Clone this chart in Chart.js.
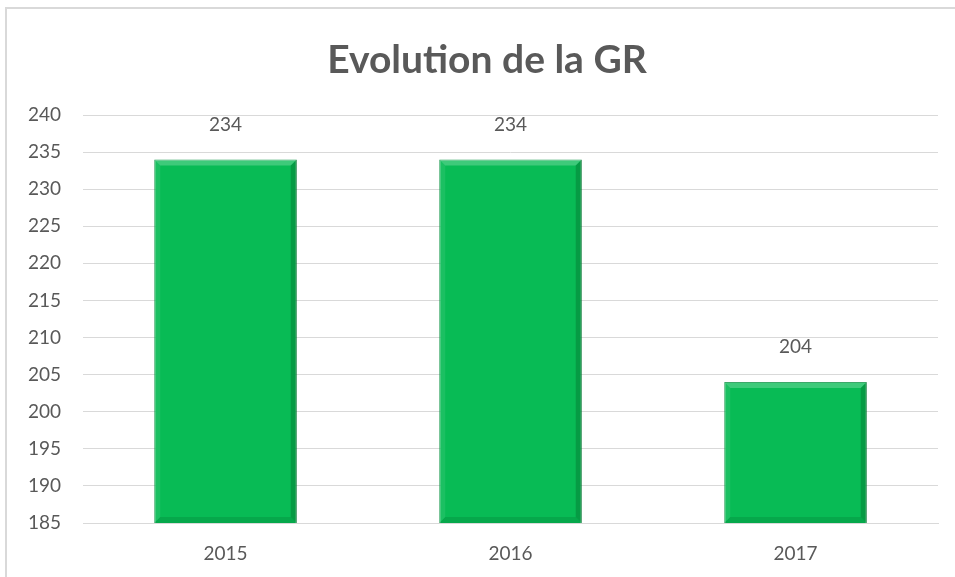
<!DOCTYPE html>
<html>
<head>
<meta charset="utf-8">
<script src="https://cdn.jsdelivr.net/npm/chart.js@4.4.0/dist/chart.umd.js"></script>
<style>
  html, body { margin: 0; padding: 0; background: #fff; overflow: hidden; }
  #frame { position: absolute; left: 5px; top: 7px; width: 1000px; height: 600px; border: 2px solid #d9d9d9; box-sizing: border-box; }
  #wrap { position: absolute; left: 0; top: 0; width: 955px; height: 577px; }
</style>
</head>
<body>
<div id="frame"></div>
<div id="wrap"><canvas id="chart" width="955" height="577"></canvas></div>
<script>
// données du graphique
const years = ['2015', '2016', '2017'];
const grValues = [234, 234, 204];
const yTicks = [185, 190, 195, 200, 205, 210, 215, 220, 225, 230, 235, 240];
const chartTitle = 'Evolution de la GR';

const textColor = '#595959';
const fontFamily = "Lato, 'Open Sans', sans-serif";

// titre centré sur le cadre complet (le cadre déborde à droite)
const frameTitle = {
    id: 'frameTitle',
    afterDraw(chart) {
        const ctx = chart.ctx;
        ctx.save();
        ctx.fillStyle = textColor;
        ctx.font = 'bold 39px ' + fontFamily;
        ctx.textAlign = 'center';
        ctx.textBaseline = 'middle';
        ctx.fillText(chartTitle, 487, 60);
        ctx.restore();
    }
};

// étiquettes de valeurs au-dessus des barres
const valueLabels = {
    id: 'valueLabels',
    afterDatasetsDraw(chart) {
        const ctx = chart.ctx;
        const meta = chart.getDatasetMeta(0);
        ctx.save();
        ctx.fillStyle = textColor;
        ctx.font = '19px ' + fontFamily;
        ctx.textAlign = 'center';
        ctx.textBaseline = 'middle';
        meta.data.forEach((bar, i) => {
            ctx.fillText(String(grValues[i]), bar.x, bar.y - 35);
        });
        ctx.restore();
    }
};

// petit effet de biseau sur les barres
const bevel = {
    id: 'bevel',
    afterDatasetsDraw(chart) {
        const ctx = chart.ctx;
        const meta = chart.getDatasetMeta(0);
        ctx.save();
        meta.data.forEach(bar => {
            const l = bar.x - bar.width / 2, r = bar.x + bar.width / 2;
            const t = bar.y, b = Math.min(bar.base, chart.chartArea.bottom);
            const d = 6;
            ctx.fillStyle = 'rgba(255,255,255,0.22)';
            ctx.beginPath();
            ctx.moveTo(l, t); ctx.lineTo(r, t); ctx.lineTo(r - d, t + d); ctx.lineTo(l + d, t + d);
            ctx.closePath(); ctx.fill();
            ctx.fillStyle = 'rgba(0,60,20,0.25)';
            ctx.beginPath();
            ctx.moveTo(r, t); ctx.lineTo(r, b); ctx.lineTo(r - d, b - d); ctx.lineTo(r - d, t + d);
            ctx.closePath(); ctx.fill();
            ctx.fillStyle = 'rgba(0,60,20,0.15)';
            ctx.beginPath();
            ctx.moveTo(l, b); ctx.lineTo(r, b); ctx.lineTo(r - d, b - d); ctx.lineTo(l + d, b - d);
            ctx.closePath(); ctx.fill();
            ctx.fillStyle = 'rgba(255,255,255,0.08)';
            ctx.beginPath();
            ctx.moveTo(l, t); ctx.lineTo(l + d, t + d); ctx.lineTo(l + d, b - d); ctx.lineTo(l, b);
            ctx.closePath(); ctx.fill();
        });
        ctx.restore();
    }
};

new Chart(document.getElementById('chart'), {
    type: 'bar',
    data: {
        labels: years,
        datasets: [{
            label: 'GR',
            data: grValues,
            backgroundColor: '#08bb55',
            borderColor: '#06903f',
            borderWidth: 1,
            barPercentage: 0.5,
            categoryPercentage: 1
        }]
    },
    options: {
        responsive: false,
        animation: false,
        layout: { padding: { left: 0, right: 17, top: 115, bottom: 0 } },
        plugins: {
            legend: { display: false },
            tooltip: { enabled: false },
            title: { display: false }
        },
        scales: {
            x: {
                grid: { display: false, drawTicks: false },
                border: { display: true, color: '#d9d9d9' },
                ticks: { color: textColor, font: { family: fontFamily, size: 19 }, padding: 19 },
                afterFit(scale) { scale.height = 54; }
            },
            y: {
                min: 185,
                max: 240,
                afterBuildTicks(scale) { scale.ticks = yTicks.map(v => ({ value: v })); },
                grid: { color: '#d9d9d9', drawTicks: false },
                border: { display: false },
                ticks: { color: textColor, font: { family: fontFamily, size: 19 }, padding: 22 },
                afterFit(scale) { scale.width = 83; }
            }
        }
    },
    plugins: [bevel, valueLabels, frameTitle]
});
</script>
</body>
</html>
